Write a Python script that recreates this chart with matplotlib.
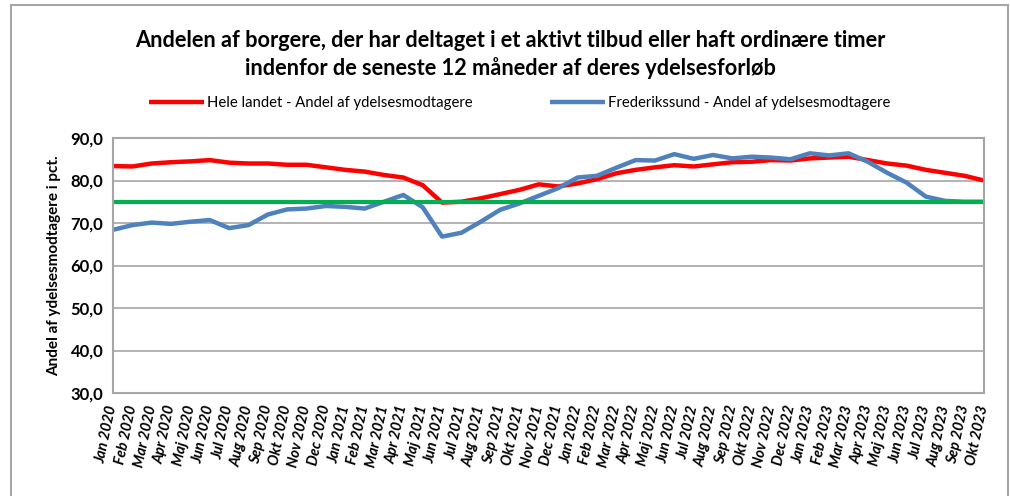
import numpy as np
import matplotlib
matplotlib.use("Agg")
import matplotlib.pyplot as plt
from matplotlib.patches import Rectangle

plt.rcParams['font.family'] = ['Lato', 'DejaVu Sans']

months = ["Jan", "Feb", "Mar", "Apr", "Maj", "Jun", "Jul", "Aug", "Sep", "Okt", "Nov", "Dec"]
labels = [f"{m} {y}" for y in (2020, 2021, 2022, 2023) for m in months][:46]

hele_landet = [83.4, 83.3, 84.0, 84.3, 84.5, 84.8, 84.2, 84.0, 84.0, 83.7,
               83.7, 83.1, 82.5, 82.1, 81.3, 80.7, 78.9, 74.8, 75.0, 75.8,
               76.8, 77.8, 79.1, 78.6, 79.3, 80.3, 81.7, 82.5, 83.1, 83.6,
               83.3, 83.8, 84.3, 84.4, 84.8, 84.7, 85.2, 85.4, 85.6, 84.8,
               84.0, 83.5, 82.5, 81.8, 81.1, 80.0]
frederikssund = [68.4, 69.5, 70.1, 69.8, 70.3, 70.7, 68.8, 69.5, 72.0, 73.2,
                 73.4, 74.0, 73.8, 73.4, 75.0, 76.6, 73.7, 66.8, 67.7, 70.3,
                 73.1, 74.6, 76.4, 78.2, 80.7, 81.1, 83.0, 84.8, 84.7, 86.2,
                 85.1, 86.0, 85.2, 85.6, 85.4, 85.0, 86.4, 85.9, 86.4, 84.4,
                 81.8, 79.5, 76.2, 75.2, 75.0, 75.0]
maal = [75.0] * 46

fig = plt.figure(figsize=(10.1, 4.96), dpi=100)
ax = fig.add_axes([113/1010, 1 - 393/496, (984 - 113)/1010, (393 - 138)/496])

x = np.arange(len(labels))
ax.plot(x, hele_landet, color="#FF0000", lw=3.2, solid_capstyle="butt",
        label="Hele landet - Andel af ydelsesmodtagere")
ax.plot(x, frederikssund, color="#4F81BD", lw=3.2, solid_capstyle="butt",
        label="Frederikssund - Andel af ydelsesmodtagere")
ax.plot(x, maal, color="#00B050", lw=3.0, solid_capstyle="butt")

ax.set_xlim(0, len(labels) - 1)
ax.set_ylim(30, 90)
ax.set_yticks(np.arange(30, 91, 10))
ax.set_yticklabels([f"{v:.1f}".replace(".", ",") for v in np.arange(30, 91, 10)],
                   fontsize=12, fontweight="bold")
ax.set_xticks(x)
ax.set_xticklabels(labels, rotation=78, rotation_mode="anchor", ha="right",
                   va="center", fontsize=10.5, fontweight="bold", style="italic")
ax.tick_params(axis="both", length=0)
ax.tick_params(axis="x", pad=9)
ax.tick_params(axis="y", pad=7)
ax.grid(axis="y", color="#A6A6A6", lw=1.2)
ax.set_axisbelow(True)
for s in ax.spines.values():
    s.set_color("#A6A6A6")
    s.set_linewidth(1.5)

ax.set_ylabel("Andel af ydelsesmodtagere i pct.", fontsize=11, fontweight="bold",
              labelpad=7)

fig.suptitle("Andelen af borgere, der har deltaget i et aktivt tilbud eller haft ordinære timer\n"
             "indenfor de seneste 12 måneder af deres ydelsesforløb",
             x=510/1010, y=1 - 30/496, va="top", fontsize=15.7, fontweight="bold",
             linespacing=1.35)

fig.legend(loc="center", bbox_to_anchor=(520/1010, 1 - 103/496), ncol=2,
           frameon=False, fontsize=10.7, handlelength=3.7, handletextpad=0.2,
           columnspacing=5.2)

fig.patches.append(Rectangle((11/1010, -0.1), (1008 - 11)/1010, 1.1 - 5/496,
                             transform=fig.transFigure, fill=False,
                             edgecolor="#A6A6A6", lw=1.5))

fig.savefig("out.png", dpi=100)
